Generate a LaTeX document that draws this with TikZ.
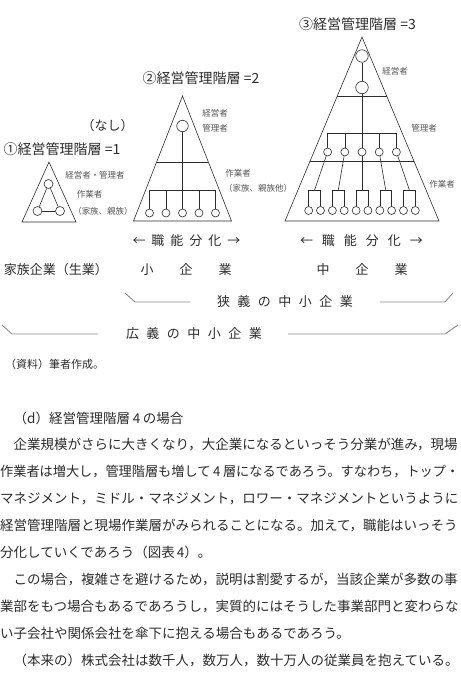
\documentclass[tikz,border=0pt]{standalone}
\usepackage{fontspec}
\usepackage{tikz}
\setmainfont{Noto Sans CJK JP}
\definecolor{inkgray}{HTML}{2B2B2B}
\definecolor{lightink}{HTML}{555555}
\definecolor{rulegray}{HTML}{8A8A8A}

\begin{document}
\begin{tikzpicture}[x=1pt, y=-1pt,
    person/.style={circle, draw=inkgray, line width=0.6pt, inner sep=0pt, minimum size=8pt, fill=white},
    boss/.style={person, minimum size=12.5pt},
    rank/.style={font=\fontsize{14}{14}\selectfont, text=inkgray},
    role/.style={font=\fontsize{8.5}{8.5}\selectfont, text=lightink, inner sep=1pt},
    kind/.style={font=\fontsize{13}{13}\selectfont, text=inkgray},
    body/.style={anchor=west, inner sep=0pt, font=\fontsize{13.5}{13.5}\selectfont, text=inkgray},
    link/.style={draw=inkgray, line width=0.6pt},
    spanline/.style={draw=rulegray, line width=0.9pt}
]
\useasboundingbox (0,0) rectangle (461,673);

\node[rank] (r1) at (62,149) {①経営管理階層 =1};
\node[rank] (r2) at (201,78) {②経営管理階層 =2};
\node[rank] (r3) at (357.5,24) {③経営管理階層 =3};
\node[kind] (none) at (107.5,126) {（なし）};

\draw[link] (49,162) -- (76,222) -- (22,222) -- cycle;
\node[person, minimum size=9pt] (p11) at (48.5,184) {};
\node[person, minimum size=9pt] (p12) at (37.5,211) {};
\node[person, minimum size=9pt] (p13) at (60,211) {};
\draw[link] (p11) -- (p12);
\draw[link] (p12) -- (p13);
\draw[link] (p13) -- (p11);
\node[role] (l11) at (95,175) {経営者・管理者};
\node[role] (l12) at (89.5,194.5) {作業者};
\node[role] (l13) at (103,211) {（家族、親族）};

\draw[link] (182.5,96) -- (231.5,221) -- (133.5,221) -- cycle;
\draw[link] (156.6,162) -- (208.4,162);
\node[boss, minimum size=11.5pt] (p20) at (182.5,126) {};
\coordinate (bar2) at (182.5,190);
\node[person] (p21) at (149.5,213) {};
\node[person] (p22) at (166,213) {};
\node[person] (p23) at (182.5,213) {};
\node[person] (p24) at (199,213) {};
\node[person] (p25) at (215.5,213) {};
\draw[link] (p20) -- (p23);
\draw[link] (p21) -- (p21 |- bar2) -- (p25 |- bar2) -- (p25);
\draw[link] (p22) -- (p22 |- bar2);
\draw[link] (p24) -- (p24 |- bar2);
\node[role] (l21) at (215,113) {経営者};
\node[role] (l22) at (215,128) {管理者};
\node[role] (l23) at (238,173) {作業者};
\node[role] (l24) at (258,188) {（家族、親族他）};

\draw[link] (362,37) -- (439,221) -- (285,221) -- cycle;
\draw[link] (337.3,96) -- (386.7,96);
\draw[link] (310.1,161) -- (413.9,161);
\node[boss] (t31) at (362,56) {};
\node[boss] (t32) at (362,87.5) {};
\coordinate (bar3) at (362,133.5);
\node[person] (m1) at (327.6,152) {};
\node[person] (m2) at (344.8,152) {};
\node[person] (m3) at (362,152) {};
\node[person] (m4) at (379.2,152) {};
\node[person] (m5) at (396.4,152) {};
\draw[link] (t31) -- (t32);
\draw[link] (t32) -- (m3);
\draw[link] (m1) -- (m1 |- bar3) -- (m5 |- bar3) -- (m5);
\draw[link] (m2) -- (m2 |- bar3);
\draw[link] (m4) -- (m4 |- bar3);
\coordinate (g1) at (314.6,190);
\coordinate (g2) at (338.3,190);
\coordinate (g3) at (362,190);
\coordinate (g4) at (385.7,190);
\coordinate (g5) at (409.4,190);
\node[person] (w11) at (308.7,210.5) {};
\node[person] (w12) at (320.5,210.5) {};
\node[person] (w21) at (332.4,210.5) {};
\node[person] (w22) at (344.2,210.5) {};
\node[person] (w31) at (356.1,210.5) {};
\node[person] (w32) at (367.9,210.5) {};
\node[person] (w41) at (379.8,210.5) {};
\node[person] (w42) at (391.6,210.5) {};
\node[person] (w51) at (403.5,210.5) {};
\node[person] (w52) at (415.3,210.5) {};
\draw[link] (m1) -- (g1);
\draw[link] (m2) -- (g2);
\draw[link] (m3) -- (g3);
\draw[link] (m4) -- (g4);
\draw[link] (m5) -- (g5);
\draw[link] (w11) -- (w11 |- g1) -- (w12 |- g1) -- (w12);
\draw[link] (w21) -- (w21 |- g2) -- (w22 |- g2) -- (w22);
\draw[link] (w31) -- (w31 |- g3) -- (w32 |- g3) -- (w32);
\draw[link] (w41) -- (w41 |- g4) -- (w42 |- g4) -- (w42);
\draw[link] (w51) -- (w51 |- g5) -- (w52 |- g5) -- (w52);
\node[role] (l31) at (395,71) {経営者};
\node[role] (l32) at (424,128) {管理者};
\node[role] (l33) at (442,184) {作業者};

\node[kind] (fd2) at (186.5,241) {←\hspace{6pt}職\hspace{6pt}能\hspace{6pt}分\hspace{6pt}化\hspace{6pt}→};
\node[kind] (fd3) at (361.5,241) {←\hspace{9pt}職\hspace{9pt}能\hspace{9pt}分\hspace{9pt}化\hspace{9pt}→};

\node[kind] (k1) at (56,270) {家族企業（生業）};
\node[kind] (k2) at (186,270) {小　　企　　業};
\node[kind] (k3) at (362,270) {中　　企　　業};

\node[kind] (narrow) at (285,302) {狭\hspace{7.5pt}義\hspace{7.5pt}の\hspace{7.5pt}中\hspace{7.5pt}小\hspace{7.5pt}企\hspace{7.5pt}業};
\draw[spanline] (125,293) -- (135,302) -- (190,302);
\draw[spanline] (380,302) -- (445,302) -- (453,293);
\node[kind] (wide) at (194,334) {広\hspace{7.5pt}義\hspace{7.5pt}の\hspace{7.5pt}中\hspace{7.5pt}小\hspace{7.5pt}企\hspace{7.5pt}業};
\draw[spanline] (2,325) -- (12,334) -- (98,334);
\draw[spanline] (288,334) -- (445,334) -- (458,325);

\node[anchor=west, inner sep=0pt, font=\fontsize{11}{11}\selectfont, text=inkgray] (src) at (5,364) {（資料）筆者作成。};

\node[body] (b0) at (0,418) {　（d）経営管理階層\hspace{0.2em}4\hspace{0.2em}の場合};
\node[body] (b1) at (0,444.9) {　企業規模がさらに大きくなり，大企業になるといっそう分業が進み，現場};
\node[body] (b2) at (0,471.8) {\resizebox{459pt}{\height}{作業者は増大し，管理階層も増して\hspace{0.2em}4\hspace{0.2em}層になるであろう。すなわち，トップ・}};
\node[body] (b3) at (0,498.7) {マネジメント，ミドル・マネジメント，ロワー・マネジメントというように};
\node[body] (b4) at (0,525.6) {経営管理階層と現場作業層がみられることになる。加えて，職能はいっそう};
\node[body] (b5) at (0,552.5) {分化していくであろう（図表\hspace{0.15em}4）。};
\node[body] (b6) at (0,579.4) {　この場合，複雑さを避けるため，説明は割愛するが，当該企業が多数の事};
\node[body] (b7) at (0,606.3) {業部をもつ場合もあるであろうし，実質的にはそうした事業部門と変わらな};
\node[body] (b8) at (0,633.2) {い子会社や関係会社を傘下に抱える場合もあるであろう。};
\node[body] (b9) at (0,660.1) {　（本来の）株式会社は数千人，数万人，数十万人の従業員を抱えている。};
\end{tikzpicture}
\end{document}
